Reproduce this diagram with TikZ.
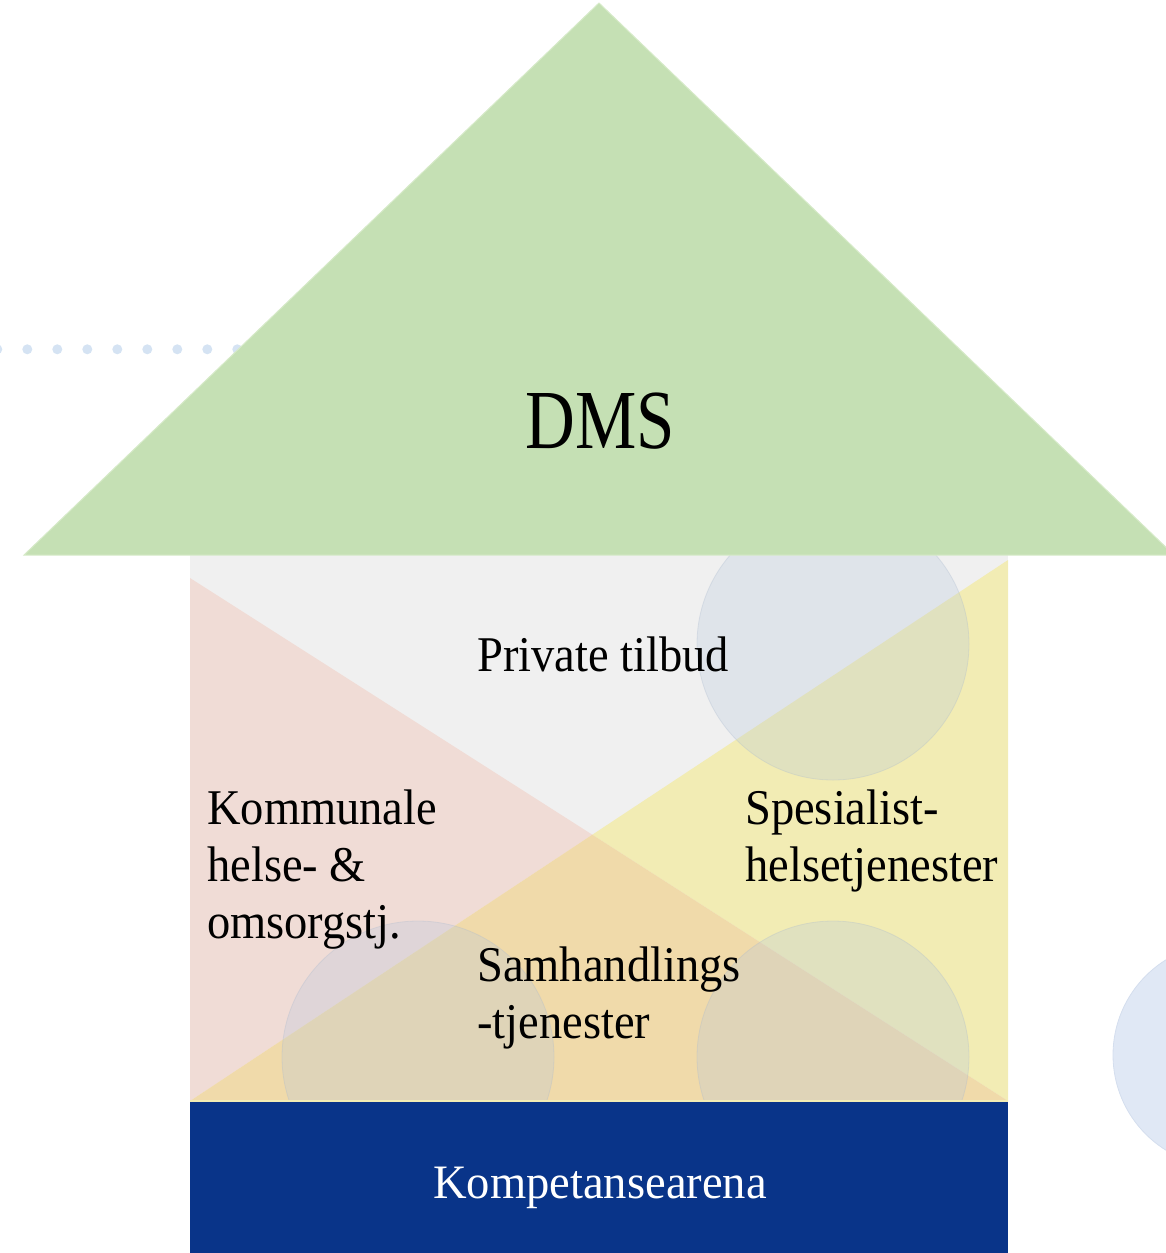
\documentclass[tikz,border=0pt]{standalone}
\usepackage{fontspec}
\setmainfont{Liberation Serif}[FakeStretch=0.93]
\newfontfamily\dmsfont{Liberation Serif}[FakeStretch=0.82]
\newfontfamily\kompfont{Liberation Serif}[FakeStretch=0.97]
\definecolor{roofgreen}{RGB}{197,224,180}
\definecolor{roofedge}{RGB}{214,234,200}
\definecolor{wallgray}{RGB}{240,240,240}
\definecolor{wallpink}{RGB}{240,220,214}
\definecolor{wallyellow}{RGB}{242,236,180}
\definecolor{wallorange}{RGB}{240,218,170}
\definecolor{basenavy}{RGB}{9,52,137}
\definecolor{dotblue}{RGB}{213,227,243}
\definecolor{bigcirc}{RGB}{224,232,245}
\definecolor{bigcircedge}{RGB}{212,222,238}
\definecolor{tintblue}{RGB}{180,198,222}
\definecolor{tintedge}{RGB}{170,185,205}
\tikzset{
  lbl/.style={inner sep=0pt, font=\fontsize{50}{57}\selectfont, align=left, text=black},
  bubble/.style={fill=tintblue, fill opacity=0.28, draw=tintedge, draw opacity=0.3, line width=0.8pt},
}
\begin{document}
\begin{tikzpicture}[x=1pt,y=-1pt]
\useasboundingbox (0,0) rectangle (1166,1253);
\clip (0,0) rectangle (1166,1253);
% big circle at right edge
\filldraw[fill=bigcirc, draw=bigcircedge, line width=0.8pt] (1225,1055) circle (112);
% dotted line
\coordinate (dotA) at (-2.7,349.3);
\coordinate (dotB) at (250,349.3);
\draw[dotblue, line width=10pt, line cap=round, dash pattern=on 0pt off 30pt] (dotA) -- (dotB);
% wall
\coordinate (X) at (592.3,834.7);
\fill[wallgray] (190,555) rectangle (1008,1101);
\fill[wallpink] (190,578) -- (X) -- (190,1101) -- cycle;
\fill[wallyellow] (1008,560) -- (1008,1101) -- (X) -- cycle;
\fill[wallorange] (X) -- (1008,1101) -- (190,1101) -- cycle;
% bubbles
\filldraw[bubble] (833,644) circle (136);
\filldraw[bubble] (418,1057) circle (136);
\filldraw[bubble] (833,1057) circle (136);
% roof
\filldraw[fill=roofgreen, draw=roofedge, line width=1pt] (599,3) -- (1174,555) -- (24,555) -- cycle;
\node[inner sep=0pt, anchor=base, font=\dmsfont\fontsize{84}{84}\selectfont] (dms) at (600,448) {DMS};
% base
\fill[basenavy] (190,1101) rectangle (1008,1260);
\draw[wallyellow, line width=1.5pt] (190,1101) -- (1008,1101);
\node[inner sep=0pt, anchor=base, text=white, font=\kompfont\fontsize{48}{48}\selectfont] (komp) at (600,1198) {Kompetansearena};
% labels (base anchor = baseline of last line)
\node[lbl, anchor=base west] (priv) at (477,671) {Private tilbud};
\node[lbl, anchor=base west] (kom) at (207,938) {Kommunale\\helse- \&\\omsorgstj.};
\node[lbl, anchor=base west] (spes) at (745,881) {Spesialist-\\helsetjenester};
\node[lbl, anchor=base west] (samh) at (477,1038) {Samhandlings\\-tjenester};
\end{tikzpicture}
\end{document}
